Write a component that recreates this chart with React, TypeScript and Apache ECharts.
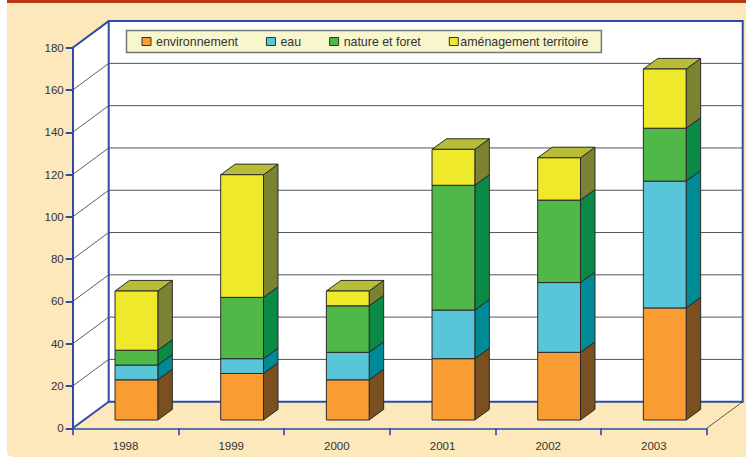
import React, { useEffect, useRef } from "react";
import * as echarts from "echarts";

const categories = ["1998", "1999", "2000", "2001", "2002", "2003"];
const environnement = [19, 22, 19, 29, 32, 53];
const eau = [7, 7, 13, 23, 33, 60];
const nature = [7, 29, 22, 59, 39, 25];
const amenagement = [28, 58, 7, 17, 20, 28];
const yTicks = [0, 20, 40, 60, 80, 100, 120, 140, 160, 180];

const layers = [
  { name: "environnement", values: environnement, front: "#FA9C34", side: "#7A5020" },
  { name: "eau", values: eau, front: "#58C6D8", side: "#008A96" },
  { name: "nature et foret", values: nature, front: "#50B848", side: "#0A8A45" },
  { name: "aménagement territoire", values: amenagement, front: "#EEE92A", side: "#7B8333" },
];
const TOP = "#B8BC36";
const BLUE = "#2C4CA6";
const PEACH = "#FDE8BC";
const DEPTH_X = 36;
const DEPTH_Y = 26.6;

function renderWalls(params: any, api: any) {
  const cs = params.coordSys;
  const left = cs.x;
  const right = cs.x + cs.width;
  const bottom = api.coord([0, 0])[1];
  const top = api.coord([0, 180])[1];
  const children: any[] = [];
  children.push({
    type: "polygon",
    shape: { points: [[left, bottom], [left + DEPTH_X, bottom - DEPTH_Y], [left + DEPTH_X, top - DEPTH_Y], [left, top]] },
    style: { fill: "#fff" },
  });
  children.push({
    type: "rect",
    shape: { x: left + DEPTH_X, y: top - DEPTH_Y, width: cs.width, height: bottom - top },
    style: { fill: "#fff" },
  });
  yTicks.forEach((t) => {
    if (t === 0 || t === 180) return;
    const y = api.coord([0, t])[1];
    children.push({
      type: "line",
      shape: { x1: left, y1: y, x2: left + DEPTH_X, y2: y - DEPTH_Y },
      style: { stroke: "#333", lineWidth: 0.8 },
    });
    children.push({
      type: "line",
      shape: { x1: left + DEPTH_X, y1: y - DEPTH_Y, x2: right + DEPTH_X, y2: y - DEPTH_Y },
      style: { stroke: "#555", lineWidth: 1 },
    });
  });
  children.push({
    type: "rect",
    shape: { x: left + DEPTH_X, y: top - DEPTH_Y, width: cs.width, height: bottom - top },
    style: { fill: "none", stroke: BLUE, lineWidth: 2 },
  });
  children.push({
    type: "line",
    shape: { x1: left, y1: top, x2: left + DEPTH_X, y2: top - DEPTH_Y },
    style: { stroke: BLUE, lineWidth: 2 },
  });
  children.push({
    type: "line",
    shape: { x1: left, y1: bottom, x2: left + DEPTH_X, y2: bottom - DEPTH_Y },
    style: { stroke: BLUE, lineWidth: 2 },
  });
  children.push({
    type: "line",
    shape: { x1: right, y1: bottom, x2: right + DEPTH_X, y2: bottom - DEPTH_Y },
    style: { stroke: "#333", lineWidth: 0.8 },
  });
  return { type: "group", children };
}

const BAR_SHIFT_X = 10.9;
const BAR_SHIFT_Y = 8.3;
const BAR_DX = 14.5;
const BAR_DY = 10.6;

function makeRenderBar(front: string, side: string) {
  return (_params: any, api: any) => {
    const i = api.value(0);
    const p0 = api.coord([i, api.value(1)]);
    const p1 = api.coord([i, api.value(2)]);
    const band = api.size([1, 0])[0];
    const w = band * 0.405;
    const x0 = p0[0] + BAR_SHIFT_X - w / 2;
    const x1 = x0 + w;
    const yb = p0[1] - BAR_SHIFT_Y;
    const yt = p1[1] - BAR_SHIFT_Y;
    const stroke = { stroke: "#2A2A2A", lineWidth: 1, lineJoin: "round" };
    return {
      type: "group",
      children: [
        {
          type: "polygon",
          shape: { points: [[x1, yb], [x1 + BAR_DX, yb - BAR_DY], [x1 + BAR_DX, yt - BAR_DY], [x1, yt]] },
          style: { fill: side, ...stroke },
        },
        {
          type: "polygon",
          shape: { points: [[x0, yt], [x1, yt], [x1 + BAR_DX, yt - BAR_DY], [x0 + BAR_DX, yt - BAR_DY]] },
          style: { fill: TOP, ...stroke },
        },
        {
          type: "rect",
          shape: { x: x0, y: yt, width: w, height: yb - yt },
          style: { fill: front, ...stroke },
        },
      ],
    };
  };
}

export default function App() {
  const ref = useRef<HTMLDivElement>(null);
  useEffect(() => {
    const chart = echarts.init(ref.current!, undefined, { renderer: "svg" });
    const cumulative = categories.map(() => 0);
    const barSeries = layers.map((layer) => {
      const data = layer.values.map((v, i) => {
        const start = cumulative[i];
        cumulative[i] = start + v;
        return [i, start, start + v];
      });
      return {
        type: "custom",
        name: layer.name,
        z: 2,
        clip: false,
        encode: { x: 0, y: [1, 2] },
        itemStyle: { color: layer.front },
        renderItem: makeRenderBar(layer.front, layer.side),
        data,
      };
    });
    chart.setOption({
      animation: false,
      textStyle: { fontFamily: "Liberation Sans" },
      grid: { left: 72.7, right: 39.3, top: 47.7, bottom: 28.7 },
      graphic: {
        z: -1,
        elements: [
          { type: "rect", silent: true, shape: { x: 7, y: 3, width: 739, height: 454, r: [0, 0, 0, 6] }, style: { fill: PEACH } },
          { type: "rect", silent: true, shape: { x: 7, y: 0, width: 739, height: 3 }, style: { fill: "#B83A14" } },
        ],
      },
      legend: {
        left: 126.5,
        top: 30.5,
        orient: "horizontal",
        selectedMode: false,
        padding: [5, 13, 5, 15],
        itemWidth: 9,
        itemHeight: 8,
        itemGap: 28,
        backgroundColor: "#F8F6CC",
        borderColor: "#777",
        borderWidth: 1.5,
        textStyle: { fontFamily: "Liberation Sans", fontSize: 12.4, color: "#333" },
        data: layers.map((l, i) => ({
          name: l.name,
          icon: "rect",
          itemStyle: { color: l.front, borderColor: "#333", borderWidth: 1 },
          textStyle: i === 3 ? { padding: [0, 0, 0, -3] } : undefined,
        })),
      },
      xAxis: {
        type: "category",
        data: categories,
        z: 3,
        boundaryGap: true,
        axisLine: { lineStyle: { color: BLUE, width: 1.6 } },
        axisTick: { show: true, length: 7, lineStyle: { color: BLUE, width: 1.6 } },
        axisLabel: { color: "#333", fontSize: 11.5, margin: 12, fontFamily: "Liberation Sans" },
        splitLine: { show: false },
      },
      yAxis: {
        type: "value",
        min: 0,
        max: 180,
        interval: 20,
        z: 3,
        axisLine: { show: true, lineStyle: { color: BLUE, width: 2 } },
        axisTick: { show: true, length: 7, lineStyle: { color: BLUE, width: 2 } },
        axisLabel: { color: "#333", fontSize: 11.5, margin: 9, fontFamily: "Liberation Sans" },
        splitLine: { show: false },
      },
      series: [
        {
          type: "custom",
          name: "walls",
          z: 1,
          clip: false,
          silent: true,
          encode: { x: 0, y: 1 },
          renderItem: renderWalls,
          data: [[0, 0]],
        },
        ...barSeries,
      ],
    });
    return () => chart.dispose();
  }, []);
  return (
    <div
      ref={ref}
      style={{ position: "fixed", left: 0, top: 0, width: 746, height: 457, background: "#fff" }}
    />
  );
}
